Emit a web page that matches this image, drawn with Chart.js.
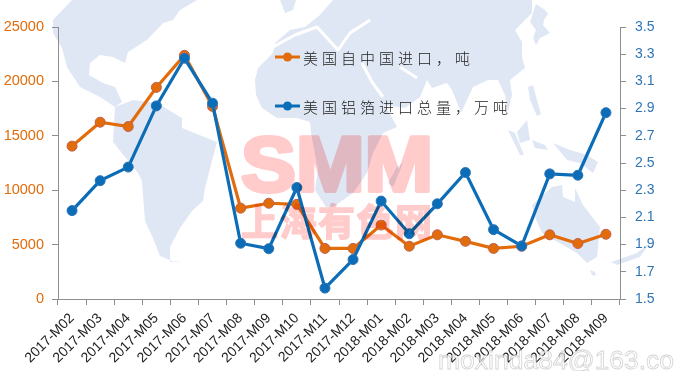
<!DOCTYPE html>
<html>
<head>
<meta charset="utf-8">
<script src="https://cdn.jsdelivr.net/npm/chart.js@4"></script>
<style>
html, body { margin: 0; padding: 0; background: #fff; }
canvas { display: block; }
</style>
</head>
<body>
<canvas id="grafico" width="674" height="371"></canvas>
<script>
const categorias = ['2017-M02','2017-M03','2017-M04','2017-M05','2017-M06','2017-M07','2017-M08','2017-M09','2017-M10','2017-M11','2017-M12',
    '2018-M01','2018-M02','2018-M03','2018-M04','2018-M05','2018-M06','2018-M07','2018-M08','2018-M09'];
const importChina = [14050,16250,15850,19450,22400,17700,8350,8800,8700,4650,4650,6800,4850,5900,5300,4650,4850,5900,5100,5950];
const importTotal = [2.15,2.37,2.47,2.92,3.27,2.94,1.91,1.87,2.32,1.58,1.79,2.22,1.98,2.2,2.43,2.01,1.89,2.42,2.41,2.87];
const nomeChina = '美国自中国进口，吨';
const nomeTotal = '美国铝箔进口总量，万吨';

const corLaranja = '#e36c0a';
const corAzul = '#0b6db7';
const corEixo = '#8e8e8e';

// Mapa de fundo (decoracao, nao sao dados)
const terras = [
    [[72,0],[53,20],[53,33],[62,48],[67,67],[80,87],[100,97],[115,107],[122,102],[115,87],[103,83],[89,75],[90,63],[100,55],[113,57],[125,63],[128,52],[147,40],[163,23],[173,20],[180,10],[197,0]],
    [[115,107],[133,100],[157,103],[182,118],[182,128],[217,142],[213,157],[205,188],[203,201],[192,211],[180,228],[170,247],[170,262],[182,261],[172,261],[160,256],[153,238],[145,221],[142,181],[138,173],[113,142]],
    [[333,0],[320,15],[305,27],[290,30],[275,43],[273,53],[258,68],[255,80],[256,95],[262,108],[277,118],[297,118],[310,122],[311,133],[318,170],[315,190],[326,207],[333,207],[353,193],[367,173],[373,153],[383,133],[397,127],[385,105],[405,108],[420,97],[427,80],[432,88],[447,83],[452,90],[458,105],[461,113],[467,100],[473,87],[488,80],[498,80],[505,95],[508,112],[512,95],[510,80],[525,68],[522,57],[522,42],[515,30],[525,20],[532,13],[532,0]],
    [[280,0],[296,0],[293,10],[285,13]],
    [[536,4],[545,10],[548,14],[544,20],[543,25],[550,33],[540,38],[536,45],[533,38],[536,30],[530,22]],
    [[528,87],[533,85],[537,100],[541,114],[537,116],[530,100]],
    [[517,132],[527,120],[530,140],[520,143]],
    [[508,130],[515,133],[524,155],[520,155]],
    [[532,140],[545,145],[548,150],[535,148]],
    [[553,143],[570,150],[587,155],[598,162],[593,173],[580,163],[567,160]],
    [[532,205],[552,187],[562,185],[563,197],[575,202],[575,188],[583,205],[600,227],[597,257],[587,263],[577,253],[563,245],[542,233],[535,217]],
    [[611,262],[637,253],[650,243],[640,257],[617,265]],
    [[590,270],[595,272],[596,276],[592,275]]
];
const mares = [
    [[273,47],[295,35],[317,27],[338,50],[350,33],[370,20]],
    [[362,63],[372,82],[383,97]],
    [[400,67],[417,78]],
    [[60,48],[64,67]]
];

function drawMapa(c) {
    c.save();
    c.fillStyle = '#fff';
    c.fillRect(0, 0, 674, 371);
    c.fillStyle = '#e0e7f4';
    terras.forEach(p => {
        c.beginPath();
        p.forEach((q, i) => i ? c.lineTo(q[0], q[1]) : c.moveTo(q[0], q[1]));
        c.closePath();
        c.fill();
    });
    c.strokeStyle = '#fff';
    c.lineWidth = 3;
    c.lineJoin = 'round';
    mares.forEach(p => {
        c.beginPath();
        p.forEach((q, i) => i ? c.lineTo(q[0], q[1]) : c.moveTo(q[0], q[1]));
        c.stroke();
    });
    // Madagascar
    c.fillStyle = '#e0e7f4';
    c.beginPath();
    c.moveTo(397,167); c.lineTo(403,163); c.lineTo(393,187); c.lineTo(388,183);
    c.closePath();
    c.fill();
    c.restore();
}

// Marca d'agua em canvas separado para engrossar as letras sem sobrepor a cor
function criaMarca() {
    const tela = document.createElement('canvas');
    tela.width = 674;
    tela.height = 371;
    const m = tela.getContext('2d');
    m.fillStyle = m.strokeStyle = '#ffcbcb';
    m.lineJoin = 'round';
    m.save();
    m.translate(241, 191);
    m.scale(1.07, 1);
    m.font = 'bold 77px "Liberation Sans"';
    m.lineWidth = 4;
    m.fillText('SMM', 0, 0);
    m.strokeText('SMM', 0, 0);
    m.restore();
    m.font = 'bold 37px "Noto Sans CJK SC"';
    m.letterSpacing = '1.5px';
    m.lineWidth = 1.5;
    m.fillText('上海有色网', 241, 236);
    m.strokeText('上海有色网', 241, 236);
    return tela;
}

const pluginFundo = {
    id: 'fundo',
    beforeDraw(chart) { drawMapa(chart.ctx); },
    afterDatasetsDraw(chart) {
        const c = chart.ctx;
        c.save();
        c.globalCompositeOperation = 'multiply';
        c.drawImage(criaMarca(), 0, 0);
        c.restore();

        // legenda dentro do grafico
        c.save();
        c.font = '300 15px "Noto Sans CJK SC"';
        c.letterSpacing = '4px';
        c.textBaseline = 'middle';
        c.textAlign = 'left';
        [[57, corLaranja, nomeChina], [106, corAzul, nomeTotal]].forEach(l => {
            c.strokeStyle = l[1];
            c.lineWidth = 3;
            c.beginPath();
            c.moveTo(275, l[0]);
            c.lineTo(300, l[0]);
            c.stroke();
            c.fillStyle = l[1];
            c.beginPath();
            c.arc(287.5, l[0], 4.5, 0, Math.PI * 2);
            c.fill();
            c.fillStyle = '#222';
            c.fillText(l[2], 303, l[0] + 1);
        });
        c.restore();

        // marca d'agua do e-mail
        c.save();
        c.font = '26.5px "Liberation Sans"';
        c.strokeStyle = 'rgba(165,165,165,0.5)';
        c.fillStyle = 'rgba(255,255,255,0.7)';
        c.lineWidth = 0.8;
        c.textBaseline = 'alphabetic';
        c.fillText('moxinda84@163.co', 438, 369);
        c.strokeText('moxinda84@163.co', 438, 369);
        c.restore();
    }
};

new Chart(document.getElementById('grafico').getContext('2d'), {
    type: 'line',
    data: {
        labels: categorias,
        datasets: [
            {
                label: nomeChina, data: importChina, yAxisID: 'y', order: 2,
                borderColor: corLaranja, borderWidth: 3.2, tension: 0,
                pointBackgroundColor: corLaranja, pointBorderColor: '#c0604d', pointBorderWidth: 1, pointRadius: 5
            },
            {
                label: nomeTotal, data: importTotal, yAxisID: 'y1', order: 1,
                borderColor: corAzul, borderWidth: 3.2, tension: 0,
                pointBackgroundColor: corAzul, pointBorderColor: '#2e75b6', pointBorderWidth: 1, pointRadius: 5
            }
        ]
    },
    options: {
        responsive: false,
        animation: false,
        layout: { padding: { top: 27, left: 0, right: 0, bottom: 0 } },
        plugins: { legend: { display: false }, title: { display: false }, tooltip: { enabled: false } },
        scales: {
            x: {
                offset: true,
                grid: { offset: true, drawOnChartArea: false, color: corEixo, tickLength: 6 },
                border: { color: corEixo, width: 1 },
                ticks: { autoSkip: false, minRotation: 45, maxRotation: 45, color: '#222', padding: 5, font: { family: '"Liberation Sans"', size: 14 } },
                afterFit(s) { s.height = 72; }
            },
            y: {
                position: 'left', min: 0, max: 25000,
                grid: { drawOnChartArea: false, color: corEixo, tickLength: 6 },
                border: { color: corEixo, width: 1 },
                ticks: { stepSize: 5000, color: corLaranja, padding: 8, font: { family: '"Liberation Sans"', size: 14.5 }, callback: v => String(v) },
                afterFit(s) { s.width = 58; }
            },
            y1: {
                position: 'right', min: 1.5, max: 3.5,
                grid: { drawOnChartArea: false, color: corEixo, tickLength: 6 },
                border: { color: corEixo, width: 1 },
                ticks: { stepSize: 0.2, color: '#2e75b6', padding: 9, font: { family: '"Liberation Sans"', size: 14 }, callback: v => v.toFixed(1) },
                afterFit(s) { s.width = 54; }
            }
        }
    },
    plugins: [pluginFundo]
});
</script>
</body>
</html>
